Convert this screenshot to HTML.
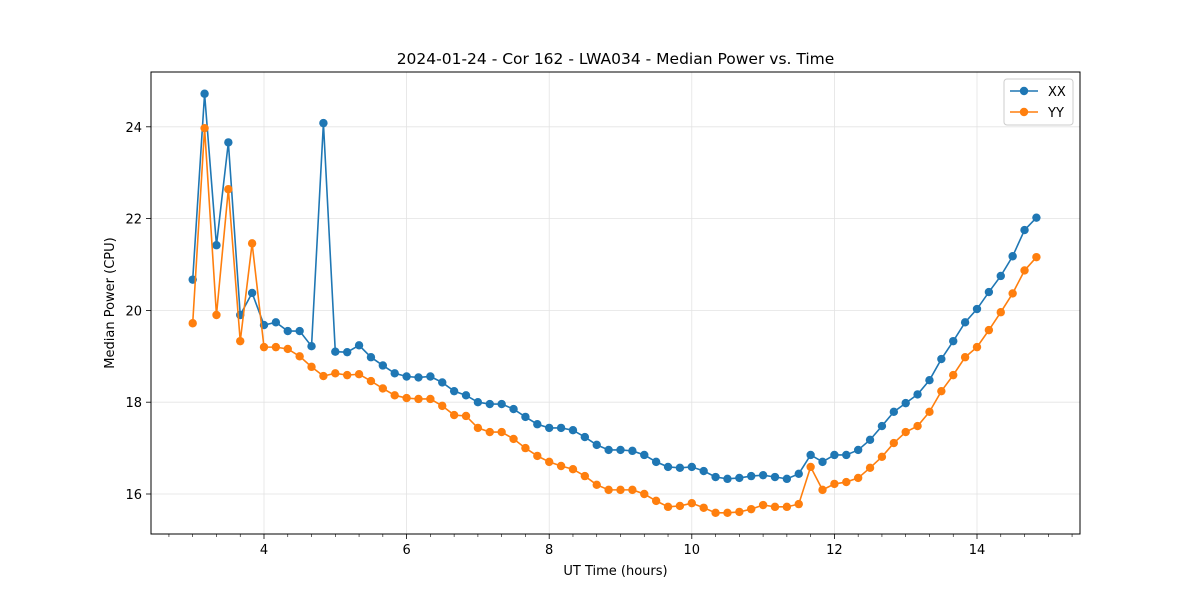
<!DOCTYPE html>
<html><head><meta charset="utf-8"><style>
body{margin:0;background:#fff;font-family:"Liberation Sans","DejaVu Sans",sans-serif}
svg text{font-family:"DejaVu Sans","Liberation Sans",sans-serif;fill:#000}
</style></head><body>
<svg id="chart" width="1200" height="600" xmlns="http://www.w3.org/2000/svg"></svg>
<script>
const startHour = 3.0;
const stepHour = 1/6;
const xxValues = [20.67,24.72,21.42,23.66,19.9,20.38,19.68,19.74,19.55,19.55,19.22,24.08,19.1,19.09,19.24,18.98,18.8,18.63,18.56,18.54,18.56,18.43,18.24,18.15,18.0,17.96,17.96,17.85,17.68,17.52,17.44,17.44,17.39,17.24,17.07,16.96,16.96,16.94,16.85,16.7,16.59,16.57,16.59,16.5,16.37,16.33,16.35,16.39,16.41,16.37,16.33,16.44,16.85,16.7,16.85,16.85,16.96,17.18,17.48,17.79,17.98,18.17,18.48,18.94,19.33,19.74,20.03,20.4,20.75,21.18,21.75,22.02];
const yyValues = [19.72,23.97,19.9,22.64,19.33,21.46,19.2,19.2,19.16,19.0,18.77,18.57,18.63,18.59,18.61,18.46,18.3,18.15,18.09,18.07,18.07,17.92,17.72,17.7,17.44,17.35,17.35,17.2,17.0,16.83,16.7,16.61,16.54,16.39,16.2,16.09,16.09,16.09,16.0,15.85,15.72,15.74,15.8,15.7,15.59,15.59,15.61,15.67,15.76,15.72,15.72,15.78,16.59,16.09,16.22,16.26,16.35,16.57,16.81,17.11,17.35,17.48,17.79,18.24,18.59,18.98,19.2,19.57,19.96,20.37,20.87,21.16];
const xTicks = [4,6,8,10,12,14];
const yTicks = [16,18,20,22,24];

const svg = document.getElementById('chart');
const NS = 'http://www.w3.org/2000/svg';
const L=151,R=1080,T=72,B=534;
function sx(h){return 264+(h-4)*71.3;}
function sy(v){return 494-(v-16)*45.9;}
function mk(tag,attrs,parent){const e=document.createElementNS(NS,tag);for(const k in attrs)e.setAttribute(k,attrs[k]);(parent||svg).appendChild(e);return e;}

xTicks.forEach(t=>{
  const g=mk('line',{x1:sx(t),x2:sx(t),y1:T,y2:B,stroke:'#e3e3e3','stroke-width':0.8});
  
  
  mk('line',{x1:sx(t),x2:sx(t),y1:B,y2:B+5,stroke:'#000','stroke-width':0.8});
  const tx=mk('text',{x:sx(t),y:B+20,'text-anchor':'middle','font-size':13});
  tx.textContent=t;
  
  
});
for(let k=0;k<=45;k++){
  const m=2+k/3;
  if(k%6===0)continue;
  if(sx(m)<L||sx(m)>R)continue;
  mk('line',{x1:sx(m),x2:sx(m),y1:B,y2:B+3,stroke:'#000','stroke-width':0.6});
}
yTicks.forEach(t=>{
  const g=mk('line',{x1:L,x2:R,y1:sy(t),y2:sy(t),stroke:'#e3e3e3','stroke-width':0.8});
  
  
  mk('line',{x1:L-5,x2:L,y1:sy(t),y2:sy(t),stroke:'#000','stroke-width':0.8});
  const tx=mk('text',{x:L-9,y:sy(t)+5,'text-anchor':'end','font-size':13});
  tx.textContent=t;
  
  
});

function series(vals,color,name){
  const g=mk('g',{});
  
  
  const pts=vals.map((v,i)=>sx(startHour+i*stepHour)+','+sy(v)).join(' ');
  mk('polyline',{points:pts,fill:'none',stroke:color,'stroke-width':1.6},g);
  vals.forEach((v,i)=>{
    const c=mk('circle',{cx:sx(startHour+i*stepHour),cy:sy(v),r:4.2,fill:color},g);
    
    
  });
}
series(xxValues,'#1f77b4','series-xx');
series(yyValues,'#ff7f0e','series-yy');

const frame=mk('rect',{x:L,y:T,width:R-L,height:B-T,fill:'none',stroke:'#000','stroke-width':1});



const title=mk('text',{x:(L+R)/2,y:64,'text-anchor':'middle','font-size':15.5});
title.textContent='2024-01-24 - Cor 162 - LWA034 - Median Power vs. Time';


const xl=mk('text',{x:(L+R)/2,y:575,'text-anchor':'middle','font-size':13});
xl.textContent='UT Time (hours)';


const yl=mk('text',{x:0,y:0,'text-anchor':'middle','font-size':13,transform:'translate(114,303) rotate(-90)'});
yl.textContent='Median Power (CPU)';



const lg=mk('g',{});


mk('rect',{x:1004,y:79,width:69,height:46,rx:3,fill:'#fff',stroke:'#ccc','stroke-width':1},lg);
[['XX','#1f77b4',91],['YY','#ff7f0e',112]].forEach(([n,c,y])=>{
  const e=mk('g',{},lg);
  
  
  mk('line',{x1:1010,x2:1038,y1:y,y2:y,stroke:c,'stroke-width':1.6},e);
  mk('circle',{cx:1024,cy:y,r:4.2,fill:c},e);
  const t=mk('text',{x:1048,y:y+5,'font-size':13},e);
  t.textContent=n;
});
</script>
</body></html>
